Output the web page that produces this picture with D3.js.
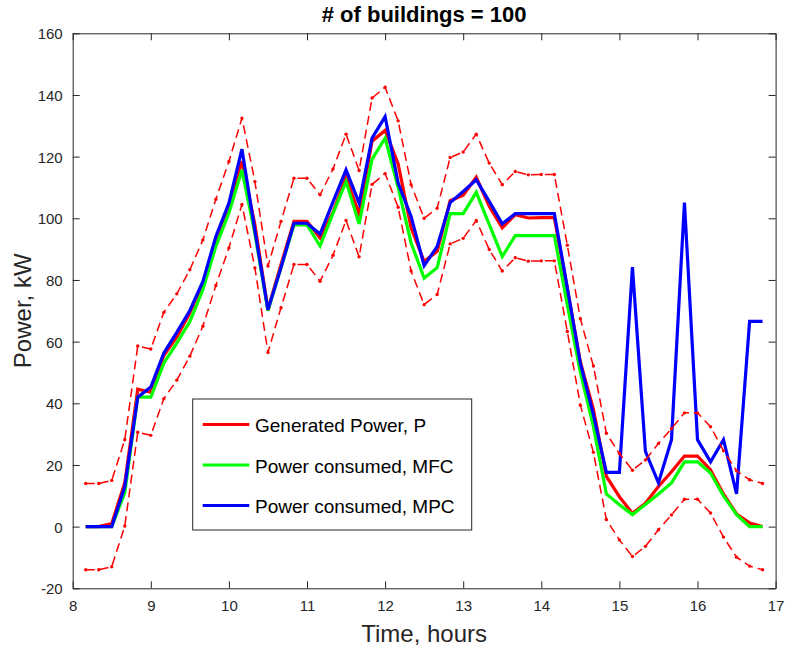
<!DOCTYPE html>
<html>
<head>
<meta charset="utf-8">
<script src="https://cdn.jsdelivr.net/npm/d3@7"></script>
<style>
  html, body { margin: 0; padding: 0; background: #fff; }
  svg { display: block; font-family: "Liberation Sans", Arial, Helvetica, sans-serif; }
</style>
</head>
<body>
<svg id="chart" width="785" height="653"></svg>
<script>
// ---- data ----
const hours = [8.167, 8.333, 8.5, 8.667, 8.833, 9, 9.167, 9.333, 9.5, 9.667, 9.833, 10,
  10.167, 10.333, 10.5, 10.667, 10.833, 11, 11.167, 11.333, 11.5, 11.667, 11.833, 12,
  12.167, 12.333, 12.5, 12.667, 12.833, 13, 13.167, 13.333, 13.5, 13.667, 13.833, 14,
  14.167, 14.333, 14.5, 14.667, 14.833, 15, 15.167, 15.333, 15.5, 15.667, 15.833, 16,
  16.167, 16.333, 16.5, 16.667, 16.833];

const generatedP = [0, 0, 1, 14.2, 44.6, 43.6, 55.5, 61.5, 69.3, 79, 92.2, 104.4,
  118.5, 97.9, 70.5, 85, 99, 99, 93.6, 102, 113.3, 101.5, 125, 128.5,
  117.6, 96.9, 86, 89.3, 105.7, 107.5, 113.3, 103.9, 96.9, 101.2, 100.1, 100.2,
  100.2, 77.3, 53.4, 38.1, 16.3, 9.7, 4.3, 7.6, 13, 17.8, 22.9, 22.9,
  18.4, 10.6, 4.1, 1.2, 0];

const consumedMFC = [0, 0, 0, 11, 42, 42, 53, 59.5, 66.5, 76.8, 90.9, 101.7,
  115.7, 95, 70, 84, 97.9, 97.9, 91, 101.6, 111.9, 98.2, 119.2, 126,
  110, 92, 80.6, 84, 101.5, 101.5, 108.4, 98, 87.6, 94.4, 94.4, 94.4,
  94.4, 72, 50, 32.5, 10.6, 7.1, 3.9, 7.2, 10.6, 14.2, 21, 21,
  17.4, 10, 3.9, 0, 0];

const consumedMPC = [0, 0, 0, 13, 42, 45.3, 56.3, 63, 70.1, 79.5, 94.1, 104.9,
  122.4, 96, 70.3, 84, 98.4, 98.4, 94.9, 105.3, 115.7, 104.9, 126, 133,
  111.4, 100.6, 84.6, 90.9, 105.1, 108.7, 112.5, 105.5, 98.2, 101.5, 101.5, 101.5,
  101.5, 77.5, 53, 36.3, 17.6, 17.6, 84.2, 24.4, 14.2, 28.2, 105.1, 28.2,
  21, 28.2, 10.6, 66.6, 66.6];

const upperBound = [14, 14, 15, 28.2, 58.6, 57.6, 69.5, 75.5, 83.3, 93, 106.2, 118.4,
  132.5, 111.9, 84.5, 99, 113, 113, 107.6, 116, 127.3, 115.5, 139, 142.5,
  131.6, 110.9, 100, 103.3, 119.7, 121.5, 127.3, 117.9, 110.9, 115.2, 114.1, 114.2,
  114.2, 91.3, 67.4, 52.1, 30.3, 23.7, 18.3, 21.6, 27, 31.8, 36.9, 36.9,
  32.4, 24.6, 18.1, 15.2, 14];

const lowerBound = [-14, -14, -13, 0.2, 30.6, 29.6, 41.5, 47.5, 55.3, 65, 78.2, 90.4,
  104.5, 83.9, 56.5, 71, 85, 85, 79.6, 88, 99.3, 87.5, 111, 114.5,
  103.6, 82.9, 72, 75.3, 91.7, 93.5, 99.3, 89.9, 82.9, 87.2, 86.1, 86.2,
  86.2, 63.3, 39.4, 24.1, 2.3, -4.3, -9.7, -6.4, -1, 3.8, 8.9, 8.9,
  4.4, -3.4, -9.9, -12.8, -14];

const xTicks = [8, 9, 10, 11, 12, 13, 14, 15, 16, 17];
const yTicks = [-20, 0, 20, 40, 60, 80, 100, 120, 140, 160];
const legendLabels = ["Generated Power, P", "Power consumed, MFC", "Power consumed, MPC"];
const titleText = "# of buildings = 100";
const xLabel = "Time, hours";
const yLabel = "Power, kW";

// ---- layout ----
const L = 72.7, R = 775.6, T = 33.3, B = 588.3;
const axisColor = "#262626";
const svg = d3.select("#chart");

const x = d3.scaleLinear().domain([8, 17]).range([L, R]);
const y = d3.scaleLinear().domain([-20, 160]).range([B, T]);

// axes (ticks inside, box)
const tickLen = 7;
const plainFmt = d => String(d);
const gBottom = svg.append("g").attr("transform", `translate(0,${B})`)
  .call(d3.axisBottom(x).tickValues(xTicks).tickSizeInner(-tickLen).tickSizeOuter(0).tickPadding(12).tickFormat(plainFmt));
const gTop = svg.append("g").attr("transform", `translate(0,${T})`)
  .call(d3.axisTop(x).tickValues(xTicks).tickSizeInner(-tickLen).tickSizeOuter(0).tickFormat(""));
const gLeft = svg.append("g").attr("transform", `translate(${L},0)`)
  .call(d3.axisLeft(y).tickValues(yTicks).tickSizeInner(-tickLen).tickSizeOuter(0).tickPadding(10).tickFormat(plainFmt));
const gRight = svg.append("g").attr("transform", `translate(${R},0)`)
  .call(d3.axisRight(y).tickValues(yTicks).tickSizeInner(-tickLen).tickSizeOuter(0).tickFormat(""));

[gBottom, gTop, gLeft, gRight].forEach(g => {
  g.selectAll(".domain").attr("stroke", axisColor).attr("stroke-width", 1);
  g.selectAll(".tick line").attr("stroke", axisColor).attr("stroke-width", 1);
  g.selectAll(".tick text").attr("fill", axisColor).style("font-size", "15px")
    .style("font-family", '"Liberation Sans", Arial, sans-serif');
});
gBottom.selectAll(".tick text").attr("dy", "0.71em");
gLeft.selectAll(".tick text").attr("dy", "0.36em");

// series lines
const line = (vals) => d3.line().x((d, i) => x(hours[i])).y(d => y(d))(vals);

const series = [
  { vals: generatedP, color: "#ff0000" },
  { vals: consumedMFC, color: "#00ff00" },
  { vals: consumedMPC, color: "#0000ff" }
];
series.forEach(s => {
  svg.append("path").attr("d", line(s.vals)).attr("fill", "none")
    .attr("stroke", s.color).attr("stroke-width", 3.2).attr("stroke-linejoin", "miter");
});

// bounds: red dashed with point markers
[upperBound, lowerBound].forEach(vals => {
  svg.append("path").attr("d", line(vals)).attr("fill", "none")
    .attr("stroke", "#ff0000").attr("stroke-width", 1.5).attr("stroke-dasharray", "9,5");
  svg.append("g").selectAll("circle").data(vals).join("circle")
    .attr("cx", (d, i) => x(hours[i])).attr("cy", d => y(d)).attr("r", 1.7).attr("fill", "#ff0000");
});

// title and axis labels
svg.append("text").attr("x", (L + R) / 2).attr("y", 21.5).attr("text-anchor", "middle")
  .style("font-size", "22px").style("font-weight", "bold").attr("fill", "#000").text(titleText);
svg.append("text").attr("x", (L + R) / 2).attr("y", 641.5).attr("text-anchor", "middle")
  .style("font-size", "24px").attr("fill", axisColor).text(xLabel);
svg.append("text").attr("transform", `translate(31,${(T + B) / 2}) rotate(-90)`).attr("text-anchor", "middle")
  .style("font-size", "24px").attr("fill", axisColor).text(yLabel);

// legend
const lg = svg.append("g");
lg.append("rect").attr("x", 192.7).attr("y", 399).attr("width", 279).attr("height", 131)
  .attr("fill", "#fff").attr("stroke", axisColor).attr("stroke-width", 1);
const rowsY = [424.5, 465, 505.5];
series.forEach((s, i) => {
  lg.append("line").attr("x1", 202.7).attr("x2", 249.3).attr("y1", rowsY[i]).attr("y2", rowsY[i])
    .attr("stroke", s.color).attr("stroke-width", 3.2);
  lg.append("text").attr("x", 255).attr("y", rowsY[i] + 7.5).style("font-size", "19px")
    .attr("fill", "#000").text(legendLabels[i]);
});
</script>
</body>
</html>
